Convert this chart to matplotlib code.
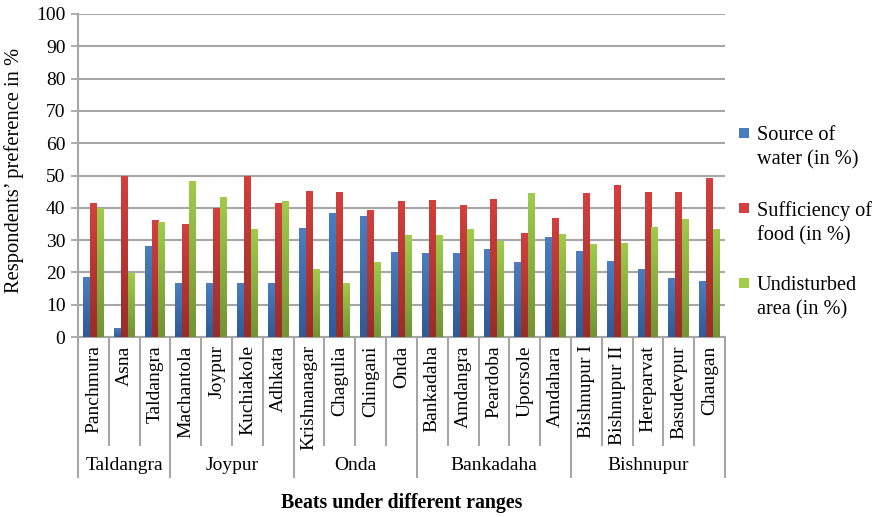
import numpy as np
import matplotlib
matplotlib.use('Agg')
import matplotlib.pyplot as plt
from matplotlib.patches import Rectangle
from matplotlib.colors import LinearSegmentedColormap
import matplotlib.transforms as mtransforms

plt.rcParams['font.family'] = ['Liberation Serif', 'DejaVu Serif']

# beats and the ranges they belong to
beats = ['Panchmura', 'Asna', 'Taldangra', 'Machantola', 'Joypur', 'Kuchiakole',
         'Adhkata', 'Krishnanagar', 'Chagulia', 'Chingani', 'Onda', 'Bankadaha',
         'Amdangra', 'Peardoba', 'Uporsole', 'Amdahara', 'Bishnupur I',
         'Bishnupur II', 'Hereparvat', 'Basudevpur', 'Chaugan']
ranges = ['Taldangra', 'Joypur', 'Onda', 'Bankadaha', 'Bishnupur']
range_sizes = [3, 4, 4, 5, 5]

water = [18.5, 2.8, 28.1, 16.7, 16.7, 16.7, 16.7, 33.7, 38.3, 37.4, 26.3,
         26.0, 26.0, 27.2, 23.2, 30.9, 26.6, 23.5, 21.0, 18.2, 17.3]
food = [41.4, 50.0, 36.1, 34.9, 40.0, 50.0, 41.4, 45.1, 44.8, 39.2, 42.0,
        42.3, 40.8, 42.6, 32.1, 36.8, 44.5, 47.0, 44.8, 44.8, 49.1]
undisturbed = [40.0, 19.8, 35.5, 48.2, 43.3, 33.4, 42.0, 21.0, 16.7, 23.2, 31.5,
               31.5, 33.4, 29.7, 44.5, 31.8, 28.7, 29.0, 34.0, 36.5, 33.4]

series = [
    ('Source of\nwater (in %)', water, ('#2f5a96', '#4a7ec0')),
    ('Sufficiency of\nfood (in %)', food, ('#992c29', '#d3403d')),
    ('Undisturbed\narea (in %)', undisturbed, ('#729434', '#a0cb4b')),
]

GRID = '#a6a6a6'
FS = 14


def gradient_bars(ax, x, heights, width, colors):
    cmap = LinearSegmentedColormap.from_list('g', list(colors))
    grad = np.linspace(0, 1, 64).reshape(-1, 1)
    bars = ax.bar(x, heights, width, color=colors[1], linewidth=0, zorder=2)
    for rect in bars:
        x0, w, h = rect.get_x(), rect.get_width(), rect.get_height()
        im = ax.imshow(grad, cmap=cmap, origin='lower', aspect='auto',
                       extent=(x0, x0 + w, 0, h), zorder=3)
        im.set_clip_path(rect)
    return bars


fig = plt.figure(figsize=(8.82, 5.17), dpi=100)
ax = fig.add_axes([78 / 882, 1 - 337 / 517, (725 - 78) / 882, (337 - 14) / 517])

n = len(beats)
idx = np.arange(n)
bw = 0.225
for k, (label, vals, cols) in enumerate(series):
    gradient_bars(ax, idx + (k - 1) * bw, vals, bw, cols)

ax.set_xlim(-0.5, n - 0.5)
ax.set_ylim(0, 100)
ax.set_yticks(np.arange(0, 101, 10))
ax.yaxis.grid(True, color=GRID, linewidth=1.5)
ax.set_axisbelow(True)
ax.tick_params(axis='y', length=5, width=1.3, color=GRID, labelsize=FS, pad=4)
for s in ['top', 'right']:
    ax.spines[s].set_visible(False)
for s in ['left', 'bottom']:
    ax.spines[s].set_color(GRID)
    ax.spines[s].set_linewidth(1.5)

ax.set_xticks(idx)
ax.set_xticklabels(beats, rotation=90, fontsize=FS)
ax.tick_params(axis='x', length=0, pad=6)

# category boxes below the axis
trans = mtransforms.blended_transform_factory(ax.transData, ax.transAxes)
group_edges = np.concatenate([[0], np.cumsum(range_sizes)])
for b in range(n + 1):
    depth = -0.433 if b in group_edges else -0.334
    ax.plot([b - 0.5, b - 0.5], [0, depth], transform=trans, color=GRID,
            linewidth=1.5, clip_on=False)
for name, a, e in zip(ranges, group_edges[:-1], group_edges[1:]):
    ax.text((a + e - 1) / 2, -0.397, name, transform=trans, ha='center',
            va='center', fontsize=FS)

fig.text(14 / 882, 1 - 170 / 517, 'Respondents\u2019 preference in %',
         rotation=90, ha='center', va='center', fontsize=14.8)
fig.text((78 + 725) / 2 / 882, 1 - 503 / 517, 'Beats under different ranges',
         ha='center', va='center', fontsize=14.3, fontweight='bold')

# legend
for k, (label, vals, cols) in enumerate(series):
    top = [128, 203, 278][k]
    fig.add_artist(Rectangle((739 / 882, 1 - (top + 10) / 517), 10 / 882, 10 / 517,
                             transform=fig.transFigure, color=cols[1], linewidth=0))
    fig.text(757 / 882, 1 - (top - 2) / 517, label, ha='left', va='top',
             fontsize=14.6, linespacing=1.38)

fig.savefig('out.png', dpi=100)
